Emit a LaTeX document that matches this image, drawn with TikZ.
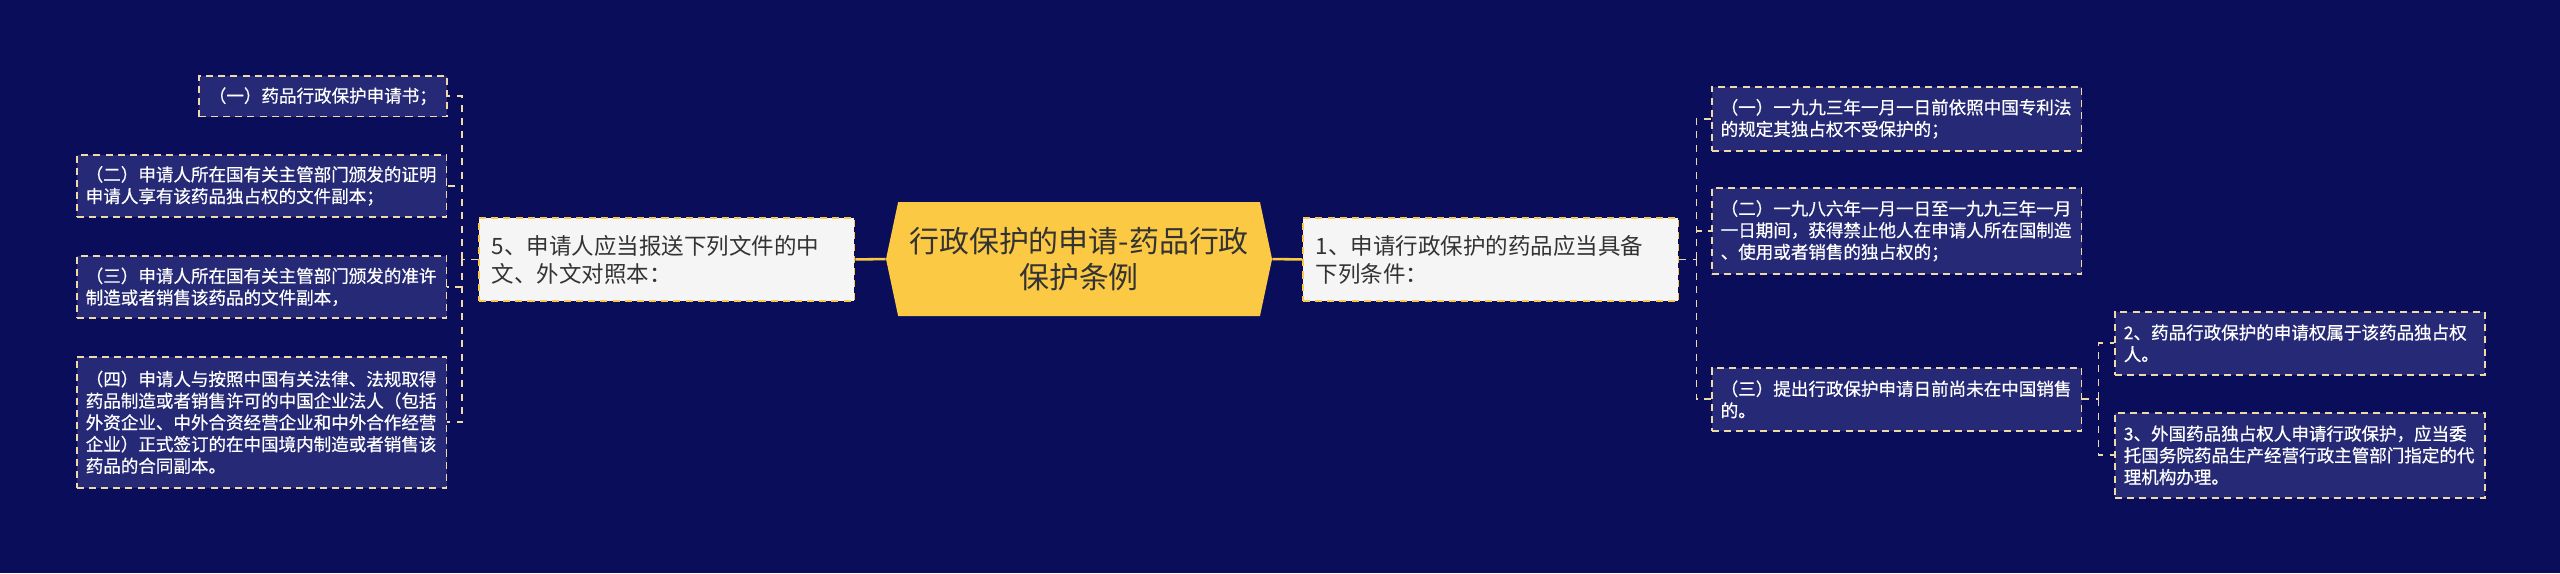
\documentclass[tikz,border=0pt]{standalone}
\usepackage{fontspec}
\newfontfamily\cjk{Noto Sans CJK SC}
\newfontfamily\cjkleaf[FakeBold=0.6]{Noto Sans CJK SC}
\usepackage{tikz}
\usetikzlibrary{shapes.symbols}
\usepackage{color}

\definecolor{navy}{HTML}{0A0E5A}
\definecolor{leaffill}{HTML}{262A76}
\definecolor{leafline}{HTML}{EFD9A4}
\definecolor{gold}{HTML}{FCC945}
\definecolor{midline}{HTML}{F7C94E}
\definecolor{midfill}{HTML}{F5F5F5}
\definecolor{ink}{HTML}{333333}

\begin{document}
\begin{tikzpicture}[
    leaf/.style={anchor=north west,fill=leaffill,draw=leafline,line width=0.012in,dash pattern=on 0.055in off 0.04in,text=white,font=\cjkleaf\fontsize{9.9pt}{12.25pt}\selectfont,align=left,inner xsep=0.07in,inner ysep=0pt},
    wideleaf/.style={leaf,text width=2.75in},
    sub/.style={anchor=north west,fill=midfill,draw=midline,line width=0.014in,dash pattern=on 0.055in off 0.04in,text=ink,font=\cjk\fontsize{12.7pt}{15.8pt}\selectfont,align=left,text width=2.734in,inner xsep=0.1in,inner ysep=0pt,minimum height=0.648in},
    topic/.style={shape=signal,signal to=east and west,signal pointer angle=156,fill=gold,text=ink,font=\cjk\fontsize{16.9pt}{19.8pt}\selectfont,align=center,minimum width=3.016in,minimum height=0.891in,inner sep=0pt},
    link/.style={draw=leafline,line width=0.014in,dash pattern=on 0.055in off 0.05in},
    trunk/.style={draw=gold,line width=0.02in}
]
    \useasboundingbox (0,0) rectangle (20in,4.477in);
    \fill[navy] (0,0) rectangle (20in,4.477in);

    \node[topic] (main) at (8.430in,2.453in) {行政保护的申请-药品行政\\保护条例};
    \node[sub] (n5) at (3.734in,2.781in) {5、申请人应当报送下列文件的中\\文、外文对照本：};
    \node[sub] (n1) at (10.172in,2.781in) {1、申请行政保护的药品应当具备\\下列条件：};

    \node[leaf,minimum width=1.938in,minimum height=0.32in] (l1) at (1.547in,3.891in) {（一）药品行政保护申请书；};
    \node[wideleaf,minimum height=0.484in] (l2) at (0.594in,3.273in) {（二）申请人所在国有关主管部门颁发的证明\\申请人享有该药品独占权的文件副本；};
    \node[wideleaf,minimum height=0.484in] (l3) at (0.594in,2.484in) {（三）申请人所在国有关主管部门颁发的准许\\制造或者销售该药品的文件副本，};
    \node[wideleaf,minimum height=1.023in] (l4) at (0.594in,1.695in) {（四）申请人与按照中国有关法律、法规取得\\药品制造或者销售许可的中国企业法人（包括\\外资企业、中外合资经营企业和中外合作经营\\企业）正式签订的在中国境内制造或者销售该\\药品的合同副本。};

    \node[wideleaf,minimum height=0.5in] (r1) at (13.367in,3.805in) {（一）一九九三年一月一日前依照中国专利法\\的规定其独占权不受保护的；};
    \node[wideleaf,minimum height=0.672in] (r2) at (13.367in,3.016in) {（二）一九八六年一月一日至一九九三年一月\\一日期间，获得禁止他人在申请人所在国制造\\、使用或者销售的独占权的；};
    \node[wideleaf,minimum height=0.492in] (r3) at (13.367in,1.609in) {（三）提出行政保护申请日前尚未在中国销售\\的。};
    \node[wideleaf,minimum height=0.492in] (r3a) at (16.516in,2.047in) {2、药品行政保护的申请权属于该药品独占权\\人。};
    \node[wideleaf,minimum height=0.664in] (r3b) at (16.516in,1.258in) {3、外国药品独占权人申请行政保护，应当委\\托国务院药品生产经营行政主管部门指定的代\\理机构办理。};

    \draw[trunk] (main.west) -- (n5.east);
    \draw[trunk] (main.east) -- (n1.west);

    \coordinate (lj) at ([xshift=-0.125in]n5.west);
    \draw[link] (n5.west) -- (lj);
    \foreach \leaf in {l1,l2,l3,l4}
        \draw[link] (lj) |- (\leaf.east);

    \coordinate (rj) at ([xshift=0.133in]n1.east);
    \draw[link] (n1.east) -- (rj);
    \foreach \leaf in {r1,r2,r3}
        \draw[link] (rj) |- (\leaf.west);

    \coordinate (rk) at ([xshift=0.125in]r3.east);
    \draw[link] (r3.east) -- (rk);
    \foreach \leaf in {r3a,r3b}
        \draw[link] (rk) |- (\leaf.west);
\end{tikzpicture}
\end{document}
